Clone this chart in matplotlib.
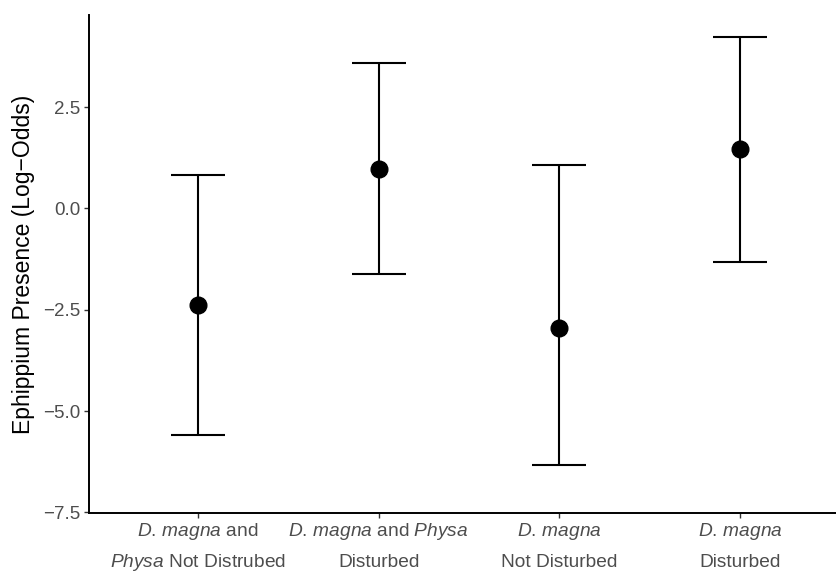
import matplotlib
matplotlib.use("Agg")
from matplotlib import pyplot
from matplotlib.ticker import FuncFormatter
from matplotlib.transforms import blended_transform_factory

# treatments, left to right (two lines each, italics via mathtext)
label_top = [
    "$\\mathit{D.\\,magna}$ and",
    "$\\mathit{D.\\,magna}$ and $\\mathit{Physa}$",
    "$\\mathit{D.\\,magna}$",
    "$\\mathit{D.\\,magna}$",
]
label_bottom = [
    "$\\mathit{Physa}$ Not Distrubed",
    "Disturbed",
    "Not Disturbed",
    "Disturbed",
]
estimate = [-2.38, 0.98, -2.95, 1.46]
lower = [-5.60, -1.61, -6.32, -1.31]
upper = [0.83, 3.59, 1.08, 4.23]
yticks = [-7.5, -5.0, -2.5, 0.0, 2.5]

pyplot.rcParams.update({
    "font.family": ["Liberation Sans", "DejaVu Sans"],
    "mathtext.fontset": "custom",
    "mathtext.rm": "Liberation Sans",
    "mathtext.it": "Liberation Sans:italic",
})

fig = pyplot.figure(figsize=(8.37, 5.73), dpi=100)
W, H = 837, 573
left, right, top, bottom = 89.3, 848.7, 15, 513.3
ax = fig.add_axes([left / W, 1 - bottom / H, (right - left) / W, (bottom - top) / H])

x = list(range(1, len(estimate) + 1))
yerr = [[e - l for e, l in zip(estimate, lower)], [u - e for e, u in zip(estimate, upper)]]
ax.errorbar(x, estimate, yerr=yerr, fmt="o", color="black", markersize=12,
            elinewidth=1.5, capthick=1.5, capsize=19.5)

ax.set_xlim(0.4, 4.6)
ax.set_ylim(-7.52, 4.77)
ax.set_xticks(x)
ax.set_xticklabels([""] * len(x))
ax.set_yticks(yticks)
ax.yaxis.set_major_formatter(FuncFormatter(lambda v, p: "{:.1f}".format(v).replace("-", "\u2212")))

for side in ["top", "right"]:
    ax.spines[side].set_visible(False)
for side in ["left", "bottom"]:
    ax.spines[side].set_linewidth(1.4)

ax.tick_params(axis="both", colors="#333333", labelcolor="#4D4D4D",
               labelsize=13.5, length=3.5, width=1.0, pad=3)
ax.set_ylabel("Ephippium Presence (Log\u2212Odds)", fontsize=16.5, color="black", labelpad=6)

# x labels drawn line by line so both rows share baselines
trans = blended_transform_factory(ax.transData, fig.transFigure)
for xi, top_line, bottom_line in zip(x, label_top, label_bottom):
    ax.text(xi, 1 - 536.5 / H, top_line, transform=trans, ha="center", va="baseline",
            fontsize=13.8, color="#4D4D4D")
    ax.text(xi, 1 - 567 / H, bottom_line, transform=trans, ha="center", va="baseline",
            fontsize=13.8, color="#4D4D4D")

fig.savefig("out.png", dpi=100)
